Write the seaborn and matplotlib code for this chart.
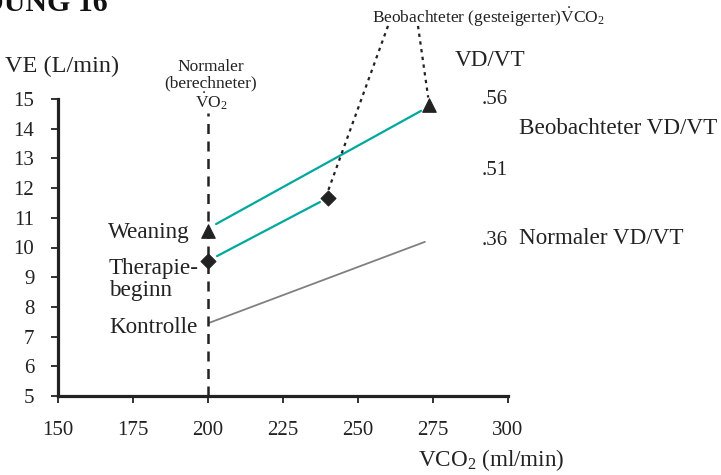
import matplotlib
matplotlib.use("Agg")
import matplotlib.pyplot as plt
import seaborn as sns
import pandas as pd

# ---- data ----
x_ticks = [150, 175, 200, 225, 250, 275, 300]
y_ticks = [5, 6, 7, 8, 9, 10, 11, 12, 13, 14, 15]

kontrolle_x = [200.3, 272.3]
kontrolle_y = [7.46, 10.19]
therapie_x = [203.0, 237.3]
therapie_y = [9.71, 11.53]
weaning_x = [202.7, 271.0]
weaning_y = [10.79, 14.60]

tri_x = [200, 273.7]
tri_y = [10.56, 14.80]
dia_x = [200, 240]
dia_y = [9.55, 11.67]

normal_vco2 = 200
vdvt_labels = [".56", ".51", ".36"]
vdvt_pos = [14.97, 12.58, 10.25]

sns.set_style("ticks")
plt.rcParams['font.family'] = ['Liberation Serif', 'DejaVu Serif']
plt.rcParams['mathtext.fontset'] = 'custom'
plt.rcParams['mathtext.rm'] = 'Liberation Serif'
plt.rcParams['mathtext.it'] = 'Liberation Serif:italic'
plt.rcParams['mathtext.bf'] = 'Liberation Serif:bold'

fig = plt.figure(figsize=(7.21, 4.75), dpi=100)
ax = fig.add_axes([58/721, 1-396/475, 450/721, 297/475])

teal = "#00A89D"
dk = "#222222"

sns.lineplot(x=kontrolle_x, y=kontrolle_y, ax=ax, color="#808080", lw=1.3)
sns.lineplot(x=therapie_x, y=therapie_y, ax=ax, color=teal, lw=1.6)
sns.lineplot(x=weaning_x, y=weaning_y, ax=ax, color=teal, lw=1.6)

ax.plot([normal_vco2, normal_vco2], [5, 14.53], color=dk, lw=1.8,
        dashes=(4, 3), zorder=2)

# dotted leader lines from the annotation
ax.plot([260, 240], [17.46, 11.9], color=dk, lw=1.6, dashes=(1.5, 2.0), clip_on=False)
ax.plot([270, 273.4], [17.46, 15.05], color=dk, lw=1.6, dashes=(1.5, 2.0), clip_on=False)

sns.scatterplot(x=tri_x, y=tri_y, ax=ax, marker="^", s=95, color=dk, edgecolor=dk, zorder=5, clip_on=False)
sns.scatterplot(x=dia_x, y=dia_y, ax=ax, marker="D", s=60, color=dk, edgecolor=dk, zorder=5)

ax.set_xlim(150, 300)
ax.set_ylim(5, 15)
ax.set_xticks(x_ticks)
ax.set_yticks(y_ticks)
ax.tick_params(axis="x", direction="out", length=5, width=1.3, colors=dk,
               labelsize=15, pad=13, labelcolor=dk)
ax.tick_params(axis="y", direction="out", length=5, width=1.3, colors=dk,
               labelsize=15, pad=12, labelcolor=dk)
for s in ["top", "right"]:
    ax.spines[s].set_visible(False)
for s in ["left", "bottom"]:
    ax.spines[s].set_linewidth(2.3)
    ax.spines[s].set_color(dk)
ax.set_xlabel("")
ax.set_ylabel("")

big = 16.7
small = 12.5
tc = dk
ax.text(194, 10.52, "Weaning", ha="right", va="center", fontsize=big, color=tc)
ax.text(167, 8.93, "Therapie-\nbeginn", ha="left", va="center", fontsize=big, color=tc, linespacing=1.08)
ax.text(167, 7.32, "Kontrolle", ha="left", va="center", fontsize=big, color=tc)
ax.text(132.3, 16.08, "VE (L/min)", ha="left", va="center", fontsize=17.5, color=tc, clip_on=False)
ax.text(201, 15.45, "Normaler\n(berechneter)\n$\\dot{\\mathrm{V}}\\mathrm{O}_2$", ha="center", va="center",
        fontsize=small, color=tc, linespacing=1.0)
ax.text(254.7, 17.76, "Beobachteter (gesteigerter)$\\dot{\\mathrm{V}}\\mathrm{CO}_2$", ha="left", va="center",
        fontsize=small, color=tc)
ax.text(282.3, 16.31, "VD/VT", ha="left", va="center", fontsize=big, color=tc)
for lab, yv in zip(vdvt_labels, vdvt_pos):
    ax.text(291.3, yv, lab, ha="left", va="center", fontsize=15, color=tc)
ax.text(303.7, 14.02, "Beobachteter VD/VT", ha="left", va="center", fontsize=big, color=tc)
ax.text(303.7, 10.29, "Normaler VD/VT", ha="left", va="center", fontsize=big, color=tc)
ax.text(270, 2.85, "VCO$_2$ (ml/min)", ha="left", va="center", fontsize=big, color=tc)

fig.text(108/721, 1-11/475, "ABBILDUNG 16", ha="right", va="baseline", fontsize=21.5,
         fontweight="bold", color="#111111")

fig.savefig("out.png", dpi=100)
